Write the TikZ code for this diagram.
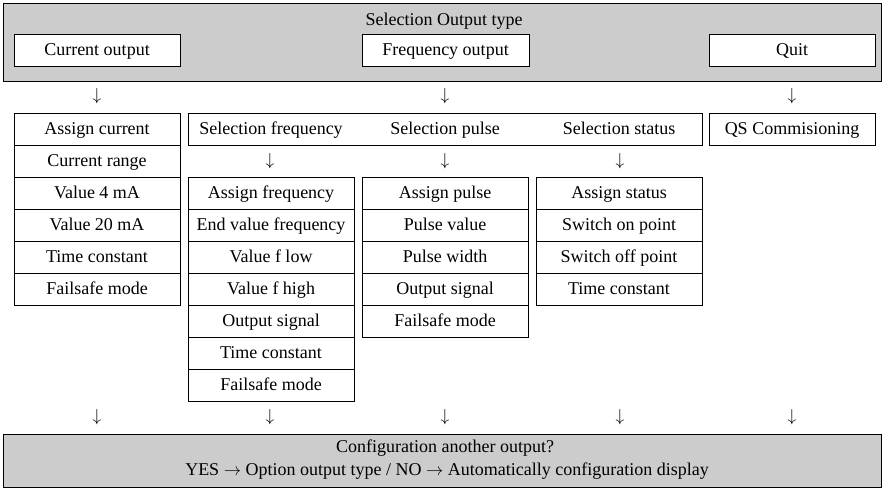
\documentclass[tikz,border=0pt]{standalone}
\usepackage{fontspec}
\setmainfont{Liberation Serif}
\definecolor{panelgray}{RGB}{204,204,204}
\begin{document}
\begin{tikzpicture}[x=1pt,y=-1pt,
  txt/.style={font=\fontsize{18}{20}\selectfont, inner sep=0pt, text height=13pt, text depth=3pt},
  cell/.style={txt, draw, line width=0.9pt, minimum width=166pt, minimum height=32pt, fill=white},
  panel/.style={draw, line width=0.9pt, fill=panelgray, minimum width=878pt, inner sep=0pt},
  arr/.style={font=\fontsize{18}{20}\selectfont, inner sep=0pt}]
\useasboundingbox (0,0) rectangle (882,488);
% top panel
\node[panel, minimum height=78pt] (top) at (442,42) {};
\node[txt] (title) at (444,20) {Selection Output type};
\node[cell] (curout) at (97,50) {Current output};
\node[cell, minimum width=167pt] (freqout) at (445.5,50) {Frequency output};
\node[cell] (quit) at (792,50) {Quit};
% arrows row 1
\node[arr] (a11) at (97,96) {$\downarrow$};
\node[arr] (a12) at (445,96) {$\downarrow$};
\node[arr] (a13) at (792,96) {$\downarrow$};
% current column
\foreach \t [count=\i from 0] in {Assign current, Current range, Value 4 mA, Value 20 mA, Time constant, Failsafe mode}
  \node[cell] (cur\i) at (97,{129+32*\i}) {\t};
% selection row
\node[cell, minimum width=514pt] (sel) at (445,129) {};
\node[txt] (selfreq) at (271,129) {Selection frequency};
\node[txt] (selpulse) at (445,129) {Selection pulse};
\node[txt] (selstat) at (619,129) {Selection status};
\node[cell] (qs) at (792,129) {QS Commisioning};
% arrows row 2
\node[arr] (a21) at (270,161) {$\downarrow$};
\node[arr] (a22) at (445,161) {$\downarrow$};
\node[arr] (a23) at (620,161) {$\downarrow$};
% frequency column
\foreach \t [count=\i from 0] in {Assign frequency, End value frequency, Value f low, Value f high, Output signal, Time constant, Failsafe mode}
  \node[cell] (fr\i) at (271,{193+32*\i}) {\t};
% pulse column
\foreach \t [count=\i from 0] in {Assign pulse, Pulse value, Pulse width, Output signal, Failsafe mode}
  \node[cell] (pu\i) at (445,{193+32*\i}) {\t};
% status column
\foreach \t [count=\i from 0] in {Assign status, Switch on point, Switch off point, Time constant}
  \node[cell] (st\i) at (619,{193+32*\i}) {\t};
% arrows row 3
\node[arr] (a31) at (97,417) {$\downarrow$};
\node[arr] (a32) at (270,417) {$\downarrow$};
\node[arr] (a33) at (445,417) {$\downarrow$};
\node[arr] (a34) at (620,417) {$\downarrow$};
\node[arr] (a35) at (792,417) {$\downarrow$};
% bottom panel
\node[panel, minimum height=53pt] (bot) at (442,460.5) {};
\node[txt] (bl1) at (445,447.5) {Configuration another output?};
\node[txt] (bl2) at (447,470) {YES $\rightarrow$ Option output type / NO $\rightarrow$ Automatically configuration display};
\end{tikzpicture}
\end{document}
